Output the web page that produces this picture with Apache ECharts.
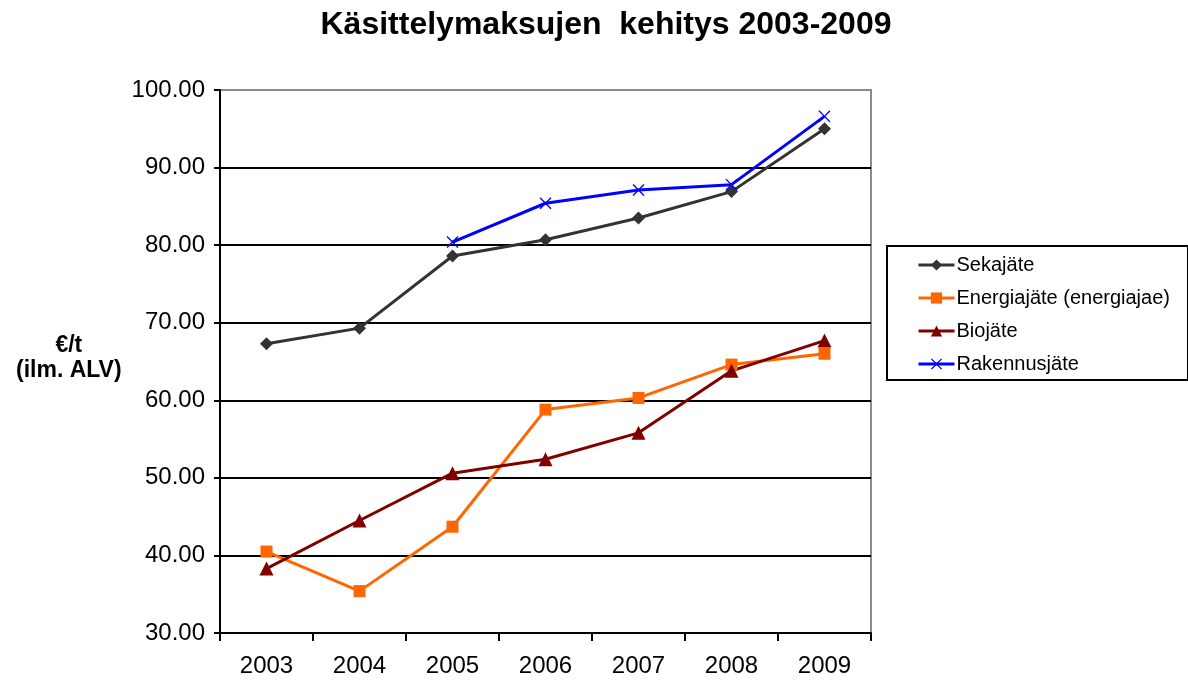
<!DOCTYPE html>
<html>
<head>
<meta charset="utf-8">
<script src="https://cdn.jsdelivr.net/npm/echarts@6/dist/echarts.min.js"></script>
<style>
  html, body { margin: 0; padding: 0; background: #fff; }
  #kaavio { width: 1188px; height: 681px; }
</style>
</head>
<body>
<div id="kaavio"></div>
<script>
// Käsittelymaksujen kehitys, €/t (ilm. ALV)
var vuodet = ['2003', '2004', '2005', '2006', '2007', '2008', '2009'];
var sekajate = [67.3, 69.3, 78.6, 80.7, 83.5, 86.9, 95.0];
var energiajate = [40.5, 35.4, 43.7, 58.8, 60.3, 64.6, 66.0];
var biojate = [38.3, 44.5, 50.6, 52.4, 55.8, 63.8, 67.7];
var rakennusjate = ['-', '-', 80.4, 85.4, 87.1, 87.8, 96.6];

var risti = 'path://M0,0.8L0.8,0L5,4.2L9.2,0L10,0.8L5.8,5L10,9.2L9.2,10L5,5.8L0.8,10L0,9.2L4.2,5Z';

var dom = document.getElementById('kaavio');
var myChart = echarts.init(dom, null, { renderer: 'canvas' });

var option = {
    animation: false,
    textStyle: { fontFamily: 'Liberation Sans' },
    title: {
        text: 'Käsittelymaksujen  kehitys 2003-2009',
        left: 601,
        textAlign: 'center',
        top: 4,
        textStyle: { fontSize: 32, fontWeight: 'bold', color: '#000', fontFamily: 'Liberation Sans' }
    },
    grid: {
        left: 220,
        right: 317,
        top: 90,
        bottom: 48,
        show: true,
        borderColor: '#8c8c8c',
        borderWidth: 2,
        backgroundColor: '#fff'
    },
    legend: {
        orient: 'vertical',
        left: 887,
        top: 246,
        padding: [9, 18, 6, 30],
        itemGap: 13,
        itemWidth: 36,
        itemHeight: 14,
        borderColor: '#000',
        borderWidth: 2,
        lineStyle: { width: 3 },
        textStyle: { fontSize: 20, color: '#000', padding: [0, 0, 0, -3] },
        data: ['Sekajäte', 'Energiajäte (energiajae)', 'Biojäte', 'Rakennusjäte']
    },
    graphic: [
        {
            type: 'text',
            left: 16,
            top: 333,
            style: {
                text: '€/t\n(ilm. ALV)',
                font: 'bold 23px Liberation Sans',
                fill: '#000',
                textAlign: 'center',
                lineHeight: 25
            }
        }
    ],
    xAxis: {
        type: 'category',
        data: vuodet,
        boundaryGap: true,
        axisLine: { lineStyle: { color: '#000', width: 2 } },
        axisTick: { show: true, length: 8, inside: false, lineStyle: { color: '#000', width: 2 } },
        axisLabel: { fontSize: 24, color: '#000', margin: 21 }
    },
    yAxis: {
        type: 'value',
        min: 30,
        max: 100,
        interval: 10,
        axisLine: { show: true, lineStyle: { color: '#000', width: 2 } },
        axisTick: { show: true, length: 6, lineStyle: { color: '#000', width: 2 } },
        axisLabel: {
            fontSize: 24,
            color: '#000',
            margin: 15,
            formatter: function (v) { return v.toFixed(2); }
        },
        splitLine: {
            lineStyle: {
                color: ['#000', '#000', '#000', '#000', '#000', '#000', '#000', '#8c8c8c'],
                width: 2
            }
        }
    },
    series: [
        {
            name: 'Sekajäte',
            type: 'line',
            data: sekajate,
            symbol: 'diamond',
            symbolSize: 13,
            itemStyle: { color: '#333333' },
            lineStyle: { color: '#333333', width: 3 }
        },
        {
            name: 'Energiajäte (energiajae)',
            type: 'line',
            data: energiajate,
            symbol: 'rect',
            symbolSize: 12,
            itemStyle: { color: '#ff6600' },
            lineStyle: { color: '#ff6600', width: 3 }
        },
        {
            name: 'Biojäte',
            type: 'line',
            data: biojate,
            symbol: 'triangle',
            symbolSize: 14,
            itemStyle: { color: '#800000' },
            lineStyle: { color: '#800000', width: 3 }
        },
        {
            name: 'Rakennusjäte',
            type: 'line',
            data: rakennusjate,
            symbol: risti,
            symbolSize: 12,
            itemStyle: { color: '#0000ff' },
            lineStyle: { color: '#0000ff', width: 3 }
        }
    ]
};

myChart.setOption(option);
window.addEventListener('resize', myChart.resize);
</script>
</body>
</html>
